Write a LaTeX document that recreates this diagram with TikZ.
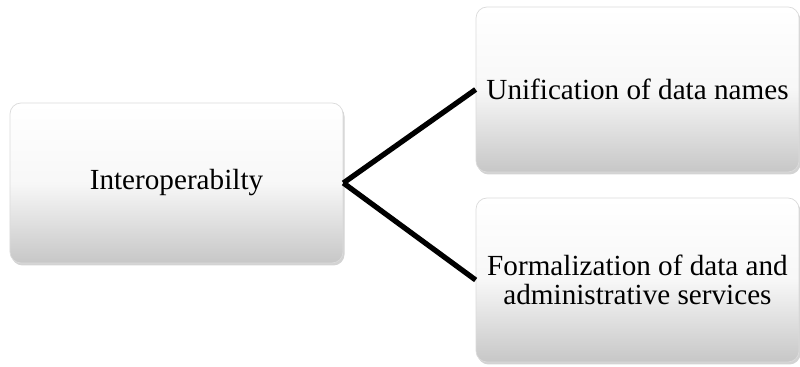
\documentclass[tikz,border=0pt]{standalone}
\usepackage{fontspec}
\setmainfont{Liberation Serif}
\usetikzlibrary{shadows}
\begin{document}
\begin{tikzpicture}[
    box/.style={draw=black!14, rounded corners=0.22cm, top color=white, bottom color=black!22,
        middle color=white!97!black,
        drop shadow={opacity=0.35, shadow xshift=0.03cm, shadow yshift=-0.05cm},
        font=\fontsize{16.6}{16.9}\selectfont, align=center, inner sep=2pt},
    link/.style={line width=3pt, black}
    ]
    \useasboundingbox (0,0) rectangle (16,7.34);
    \node[box, minimum width=6.66cm, minimum height=3.2cm] (inter) at (3.53,3.68) {Interoperabilty};
    \node[box, minimum width=6.46cm, minimum height=3.3cm] (unif) at (12.75,5.55) {Unification of data names};
    \node[box, minimum width=6.46cm, minimum height=3.28cm] (formal) at (12.75,1.74) {Formalization of data and\\administrative services};
    \draw[link] (inter.east) -- (unif.west);
    \draw[link] (inter.east) -- (formal.west);
\end{tikzpicture}
\end{document}
